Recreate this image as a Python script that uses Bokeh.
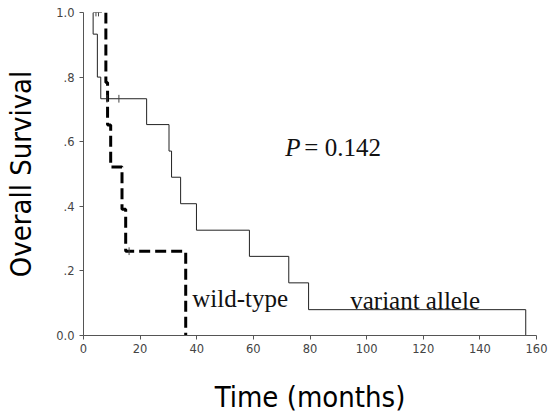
import numpy as np
from bokeh.plotting import figure
from bokeh.models import FixedTicker, Range1d
from bokeh.core.properties import value
from bokeh.embed import file_html
from bokeh.resources import INLINE

# ---- data ----
variant_start = 3.4
variant_times = [3.4, 4.9, 6.1, 22.3, 30.2, 31.1, 34.3, 39.9, 58.6, 72.5, 79.5, 156.2]
variant_surv = [0.933, 0.800, 0.733, 0.653, 0.571, 0.490, 0.408, 0.326, 0.245, 0.163, 0.080, 0.0]
variant_censor_t = [4.4, 5.3, 8.3, 12.5]
variant_censor_s = [1.0, 1.0, 0.733, 0.733]

wild_start = 7.9
wild_times = [7.9, 8.5, 9.6, 13.6, 14.9, 36.1]
wild_surv = [0.783, 0.652, 0.522, 0.391, 0.261, 0.0]
wild_censor_t = [16.1]
wild_censor_s = [0.261]

x_ticks = [0, 20, 40, 60, 80, 100, 120, 140, 160]
y_ticks = [0.0, 0.2, 0.4, 0.6, 0.8, 1.0]
y_tick_labels = ["0.0", ".2", ".4", ".6", ".8", "1.0"]


def km_path(start, times, surv):
    xs, ys = [start], [1.0]
    prev = 1.0
    for t, s in zip(times, surv):
        xs += [t, t]
        ys += [prev, s]
        prev = s
    return xs, ys


p = figure(width=548, height=416,
           min_border_left=83, min_border_right=12,
           min_border_top=12, min_border_bottom=81,
           x_range=Range1d(0, 160), y_range=Range1d(0, 1.0),
           output_backend="svg", toolbar_location=None)
p.outline_line_color = None
p.grid.visible = False

vx, vy = km_path(variant_start, variant_times, variant_surv)
p.line(vx, vy, line_color="#222222", line_width=1)
# short top piece carrying the censor marks at 1.0
top_c = [t for t, s in zip(variant_censor_t, variant_censor_s) if s == 1.0]
p.line([variant_start, max(top_c) + 1.2], [1.0, 1.0], line_color="#222222", line_width=1)

wx, wy = km_path(wild_start, wild_times, wild_surv)
p.line(wx, wy, line_color="black", line_width=3, line_dash="11 5")

ct = variant_censor_t + wild_censor_t
cs = variant_censor_s + wild_censor_s
p.segment(x0=ct, x1=ct, y0=[s - 0.012 for s in cs], y1=[s + 0.012 for s in cs],
          line_color="#444444", line_width=1)

# annotations
serif = value("Liberation Serif")
p.text(x=[71.3], y=[0.583], text=["P"], text_font=serif,
       text_font_style="italic", text_font_size="25px", text_color="#111111",
       text_baseline="alphabetic", text_align="left")
p.text(x=[78.0], y=[0.583], text=["= 0.142"], text_font=serif,
       text_font_size="25px", text_color="#111111",
       text_baseline="alphabetic", text_align="left")
p.text(x=[38.4], y=[0.114], text=["wild-type"], text_font=serif,
       text_font_size="25px", text_color="#111111",
       text_baseline="alphabetic", text_align="left")
p.text(x=[94.2], y=[0.108], text=["variant allele"], text_font=serif,
       text_font_size="25px", text_color="#111111",
       text_baseline="alphabetic", text_align="left")

for ax in (p.xaxis[0], p.yaxis[0]):
    ax.axis_line_color = "#555555"
    ax.major_tick_line_color = "#555555"
    ax.minor_tick_line_color = None
    ax.major_tick_in = 0
    ax.major_tick_out = 4
    ax.major_label_text_font = "DejaVu Sans"
    ax.major_label_text_font_size = "11.5px"
    ax.major_label_text_color = "#444444"
    ax.axis_label_text_font = "DejaVu Sans Condensed"
    ax.axis_label_text_font_size = "29px"
    ax.axis_label_text_font_style = "normal"
    ax.axis_label_text_color = "black"

p.xaxis.ticker = FixedTicker(ticks=x_ticks)
p.yaxis.ticker = FixedTicker(ticks=y_ticks)
p.yaxis.major_label_overrides = {v: l for v, l in zip(y_ticks, y_tick_labels)}
p.xaxis.axis_label = "Time (months)"
p.yaxis.axis_label = "Overall Survival"
p.xaxis.major_label_standoff = 4
p.xaxis.axis_label_standoff = 24
p.yaxis.major_label_standoff = 5
p.yaxis.axis_label_standoff = 15

open("out.html", "w").write(file_html(p, INLINE))
